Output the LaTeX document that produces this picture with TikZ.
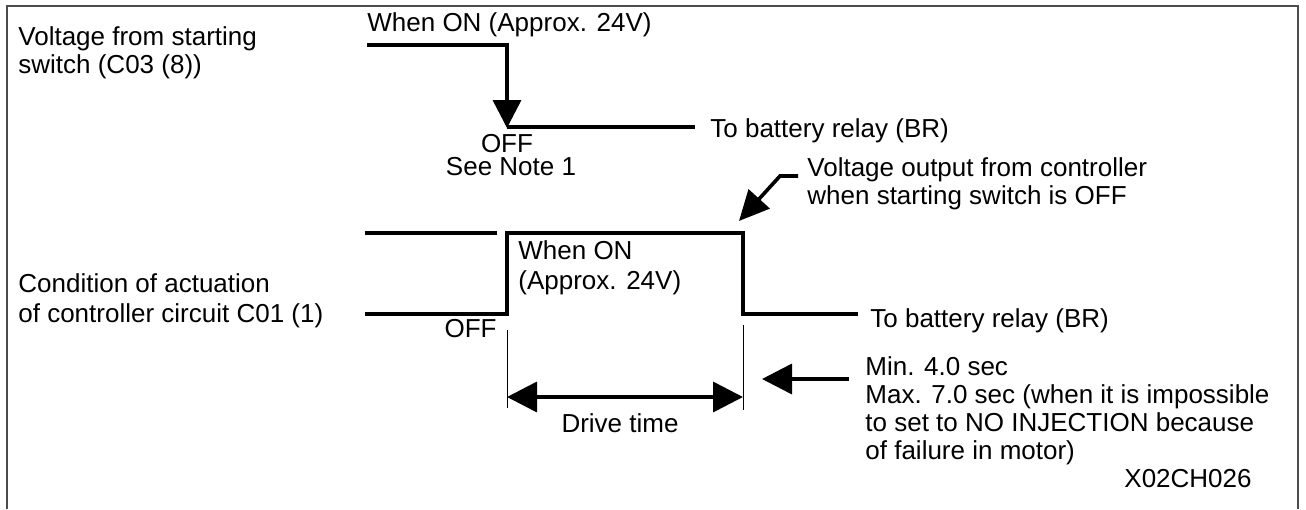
\documentclass[tikz,border=0pt]{standalone}
\usepackage{fontspec}
\setmainfont{Liberation Sans}
\usetikzlibrary{arrows.meta}
\tikzset{
  txt/.style={inner sep=0pt,font=\fontsize{13}{14}\selectfont,align=left},
  sig/.style={line width=1.8pt,line join=miter},
  tick/.style={line width=0.5pt},
  frame/.style={line width=1pt,draw=black!70},
  headArrow/.style={-{Triangle[length=14pt,width=14pt]}},
  bothArrow/.style={{Triangle[length=15pt,width=15pt]}-{Triangle[length=15pt,width=15pt]}}
}
\begin{document}
\begin{tikzpicture}[x=0.5pt,y=-0.5pt]
  \useasboundingbox (0,0) rectangle (1306,509);
  % frame (bottom edge is cut off)
  \draw[frame] (7,509) -- (7,6) -- (1298,6) -- (1298,509);
  % starting switch signal
  \node[txt,anchor=north west] (swLbl) at (18,26) {Voltage from starting\\switch (C03 (8))};
  \node[txt,anchor=base west] (swOn) at (367,31) {When ON (Approx. 24V)};
  \coordinate (swA) at (367,45);
  \coordinate (swB) at (507,45);
  \coordinate (swC) at (507,128);
  \coordinate (swD) at (695,127);
  \draw[sig,headArrow] (swA) -- (swB) -- (swC);
  \draw[sig] (swC |- swD) -- (swD);
  \node[txt,anchor=base] (swOff) at (507,152) {OFF};
  \node[txt,anchor=base] (swNote) at (511,175) {See Note 1};
  \node[txt,anchor=base west] (swBR) at (710,137) {To battery relay (BR)};
  % leader to controller output
  \node[txt,anchor=north west] (outLbl) at (807,157) {Voltage output from controller\\when starting switch is OFF};
  \coordinate (outA) at (798,176);
  \coordinate (outB) at (780,176);
  \coordinate (outTip) at (739,221);
  \draw[sig,-{Triangle[length=15pt,width=14pt]}] (outA) -- (outB) -- (outTip);
  % controller circuit signal
  \node[txt,anchor=north west,font=\fontsize{13}{15}\selectfont] (ccLbl) at (18,273) {Condition of actuation\\of controller circuit C01 (1)};
  \coordinate (ccHi) at (365,233);
  \coordinate (ccLo) at (365,314);
  \coordinate (ccUp) at (507,233);
  \coordinate (ccDn) at (743,233);
  \coordinate (ccEnd) at (858,314);
  \draw[sig] (ccHi) -- (497,233);
  \draw[sig] (ccLo) -- (ccUp |- ccLo) -- (ccUp) -- (ccDn) -- (ccDn |- ccEnd) -- (ccEnd);
  \node[txt,anchor=north west,font=\fontsize{13}{15}\selectfont] (ccOn) at (518,240) {When ON\\(Approx. 24V)};
  \node[txt,anchor=base east] (ccOff) at (497,337) {OFF};
  \node[txt,anchor=base west] (ccBR) at (870,327) {To battery relay (BR)};
  % drive time
  \draw[tick] (507,330) -- (507,408);
  \draw[tick] (743,325) -- (743,410);
  \coordinate (dtL) at (507,397);
  \coordinate (dtR) at (743,397);
  \draw[sig,bothArrow] (dtL) -- (dtR);
  \node[txt,anchor=base] (dtLbl) at (620,432) {Drive time};
  \coordinate (minA) at (849,379);
  \coordinate (minTip) at (762,379);
  \draw[sig,-{Triangle[length=15pt,width=15pt]}] (minA) -- (minTip);
  \node[txt,anchor=north west] (minLbl) at (865,356) {Min. 4.0 sec\\Max. 7.0 sec (when it is impossible\\to set to NO INJECTION because\\of failure in motor)};
  \node[txt,anchor=base east] (figId) at (1252,487) {X02CH026};
\end{tikzpicture}
\end{document}
